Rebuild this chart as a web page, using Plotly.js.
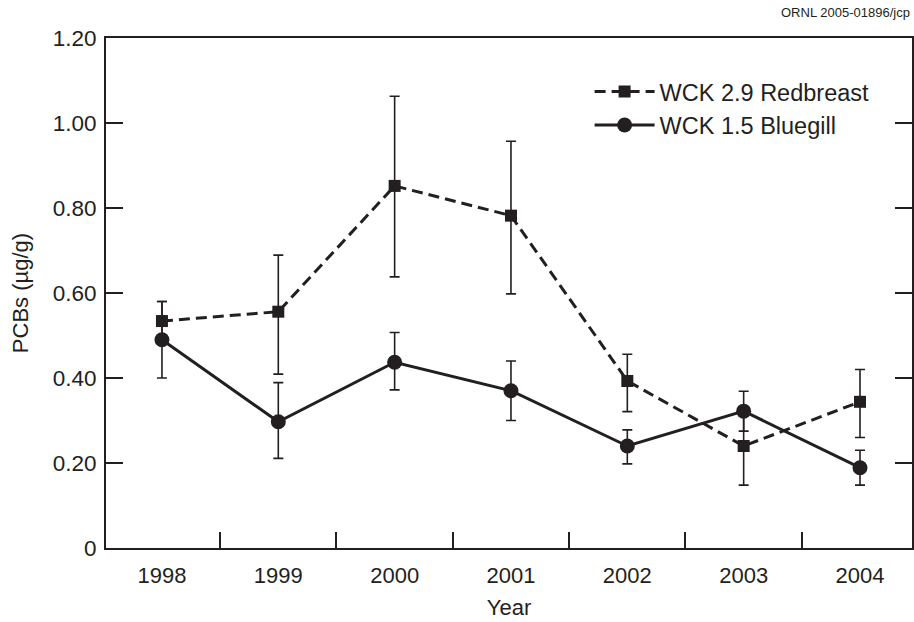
<!DOCTYPE html>
<html>
<head>
<meta charset="utf-8">
<script src="https://cdn.plot.ly/plotly-3.0.1.min.js"></script>
<style>html,body{margin:0;padding:0;background:#fff;}#chart{width:914px;height:622px;}</style>
</head>
<body>
<div id="chart"></div>
<script>
var years = [1998, 1999, 2000, 2001, 2002, 2003, 2004];
var yearLabels = ['1998', '1999', '2000', '2001', '2002', '2003', '2004'];

var redbreast = [0.534, 0.556, 0.852, 0.782, 0.393, 0.240, 0.344];
var redbreastErrPlus = [0.046, 0.133, 0.211, 0.175, 0.063, 0.090, 0.076];
var redbreastErrMinus = [0.046, 0.147, 0.214, 0.184, 0.072, 0.092, 0.084];

var bluegill = [0.490, 0.297, 0.437, 0.370, 0.240, 0.322, 0.189];
var bluegillErrPlus = [0.090, 0.092, 0.070, 0.070, 0.038, 0.047, 0.041];
var bluegillErrMinus = [0.090, 0.086, 0.065, 0.070, 0.042, 0.047, 0.041];

var yTickVals = [0, 0.2, 0.4, 0.6, 0.8, 1.0, 1.2];
var yTickText = ['0', '0.20', '0.40', '0.60', '0.80', '1.00', '1.20'];

var ink = '#231f20';
var fontFam = '"Liberation Sans", Arial, Helvetica, sans-serif';

var boundaries = [];
for (var i = 0; i < years.length - 1; i++) boundaries.push((years[i] + years[i + 1]) / 2);

var traces = [
  {
    x: years, y: redbreast, name: 'WCK 2.9 Redbreast', type: 'scatter', mode: 'lines+markers',
    line: {color: ink, width: 3, dash: '11px,6px'},
    marker: {symbol: 'square', size: 12, color: ink},
    error_y: {type: 'data', symmetric: false, array: redbreastErrPlus, arrayminus: redbreastErrMinus,
              color: ink, thickness: 1.6, width: 5}
  },
  {
    x: years, y: bluegill, name: 'WCK 1.5 Bluegill', type: 'scatter', mode: 'lines+markers',
    line: {color: ink, width: 3},
    marker: {symbol: 'circle', size: 15, color: ink},
    error_y: {type: 'data', symmetric: false, array: bluegillErrPlus, arrayminus: bluegillErrMinus,
              color: ink, thickness: 1.6, width: 5}
  }
];

var layout = {
  width: 914, height: 622,
  margin: {l: 106, r: 2, t: 38, b: 74},
  paper_bgcolor: '#fff', plot_bgcolor: '#fff',
  font: {family: fontFam, color: ink, size: 22},
  showlegend: true,
  legend: {
    x: 0.6, y: 0.938, xanchor: 'left', yanchor: 'top',
    bgcolor: 'rgba(0,0,0,0)', borderwidth: 0,
    font: {family: fontFam, size: 23.5, color: ink},
    tracegroupgap: 0, itemwidth: 60
  },
  xaxis: {
    range: [1997.519, 2004.447],
    tickmode: 'array', tickvals: years, ticktext: yearLabels,
    ticks: 'inside', ticklen: 0,
    minor: {tickmode: 'array', tickvals: boundaries, ticks: 'inside', ticklen: 16, tickwidth: 2, tickcolor: ink, showgrid: false},
    showline: true, linecolor: ink, linewidth: 2, mirror: true,
    showgrid: false, zeroline: false,
    tickfont: {size: 22},
    ticklabelstandoff: 7,
    title: {text: 'Year', font: {size: 22}, standoff: 12},
    fixedrange: true
  },
  yaxis: {
    range: [0, 1.2],
    tickmode: 'array', tickvals: yTickVals, ticktext: yTickText,
    ticks: 'inside', ticklen: 17, tickwidth: 2, tickcolor: ink,
    showline: true, linecolor: ink, linewidth: 2, mirror: 'ticks',
    showgrid: false, zeroline: false,
    tickfont: {size: 22.5},
    ticklabelstandoff: 3,
    title: {text: 'PCBs (µg/g)', font: {size: 22}, standoff: 18},
    fixedrange: true
  },
  annotations: [
    {text: 'ORNL 2005-01896/jcp', xref: 'paper', yref: 'paper', x: 1.0, y: 1.0, xanchor: 'right', yanchor: 'bottom',
     yshift: 16, showarrow: false, font: {family: fontFam, size: 13, color: ink}}
  ]
};

Plotly.newPlot('chart', traces, layout, {displayModeBar: false, staticPlot: true});
</script>
</body>
</html>
